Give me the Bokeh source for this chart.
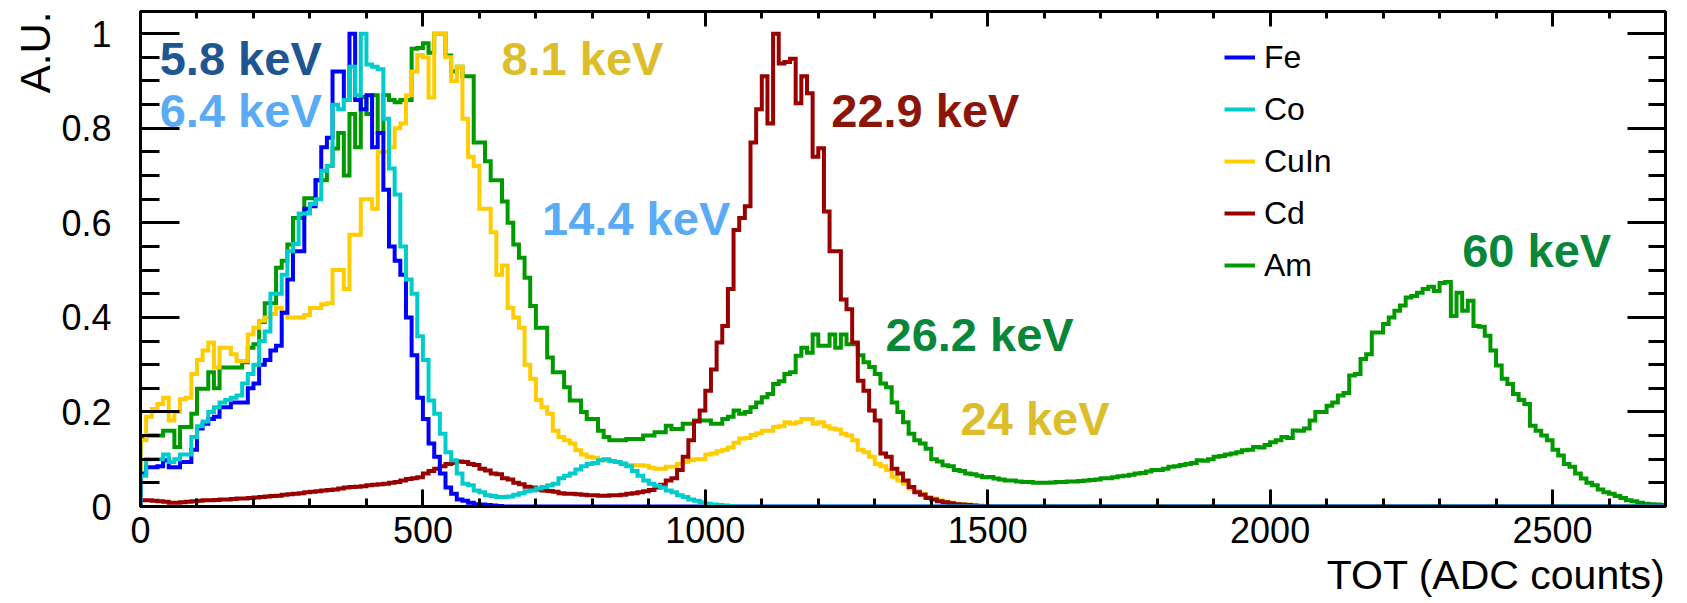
import numpy as np
from bokeh.plotting import figure
from bokeh.models import (Range1d, LinearAxis, FixedTicker, NumeralTickFormatter,
                          CustomJSTickFormatter, Label, Legend, LegendItem, Title)
from bokeh.embed import file_html
from bokeh.resources import INLINE

# ---------------- data ----------------
bin_width = 10          # ADC counts per bin
x_max = 2700
n_bins = 270

series_names = ["Fe", "Co", "CuIn", "Cd", "Am"]

fe = [0.07, 0.083, 0.083, 0.085, 0.098, 0.083, 0.083, 0.094, 0.094, 0.12,
      0.165, 0.175, 0.185, 0.19, 0.21, 0.21, 0.22, 0.22, 0.22, 0.25,
      0.26, 0.30, 0.31, 0.33, 0.34, 0.41, 0.48, 0.54, 0.54, 0.63,
      0.635, 0.69, 0.76, 0.78, 0.92, 0.92, 0.86, 1.0, 0.86, 0.84,
      0.87, 0.76, 0.79, 0.67, 0.55, 0.52, 0.49, 0.40, 0.32, 0.23,
      0.185, 0.133, 0.105, 0.07, 0.04, 0.027, 0.015, 0.012, 0.008, 0.005,
      0.004, 0.003, 0.002, 0.001]

co = [0.065, 0.10, 0.10, 0.10, 0.11, 0.094, 0.10, 0.11, 0.11, 0.147,
      0.17, 0.18, 0.20, 0.21, 0.22, 0.225, 0.23, 0.235, 0.26, 0.28,
      0.30, 0.35, 0.37, 0.45, 0.45, 0.49, 0.54, 0.555, 0.62, 0.62,
      0.64, 0.65, 0.71, 0.72, 0.85, 0.84, 0.86, 0.93, 0.87, 1.0,
      0.935, 0.93, 0.925, 0.82, 0.715, 0.66, 0.55, 0.48, 0.45, 0.36,
      0.31, 0.224, 0.196, 0.154, 0.115, 0.098, 0.07, 0.048, 0.045, 0.034,
      0.03, 0.024, 0.022, 0.02, 0.02, 0.021, 0.025, 0.028, 0.032, 0.034,
      0.038, 0.041, 0.045, 0.048, 0.06, 0.065, 0.07, 0.078, 0.085, 0.09,
      0.092, 0.098, 0.1, 0.096, 0.094, 0.09, 0.085, 0.075, 0.065, 0.055,
      0.048, 0.044, 0.04, 0.034, 0.03, 0.024, 0.02, 0.015, 0.012, 0.009,
      0.006, 0.004, 0.003, 0.002, 0.001]

cuin = [0.14, 0.19, 0.206, 0.217, 0.23, 0.182, 0.2, 0.227, 0.23, 0.28,
        0.31, 0.33, 0.347, 0.294, 0.336, 0.336, 0.322, 0.308, 0.308, 0.364,
        0.378, 0.393, 0.40, 0.407, 0.42, 0.41, 0.40, 0.40, 0.40, 0.405,
        0.42, 0.42, 0.428, 0.43, 0.50, 0.50, 0.46, 0.575, 0.575, 0.65,
        0.65, 0.63, 0.75, 0.75, 0.76, 0.80, 0.81, 0.87, 0.92, 0.955,
        0.95, 0.865, 1.0, 1.0, 0.95, 0.90, 0.93, 0.82, 0.74, 0.72,
        0.63, 0.63, 0.58, 0.49, 0.51, 0.42, 0.40, 0.378, 0.30, 0.27,
        0.225, 0.21, 0.196, 0.16, 0.147, 0.14, 0.133, 0.119, 0.11, 0.105,
        0.103, 0.098, 0.098, 0.096, 0.094, 0.092, 0.088, 0.087, 0.087, 0.086,
        0.082, 0.08, 0.08, 0.084, 0.084, 0.09, 0.094, 0.098, 0.10, 0.10,
        0.11, 0.112, 0.117, 0.12, 0.125, 0.135, 0.144, 0.145, 0.151, 0.155,
        0.16, 0.16, 0.168, 0.17, 0.178, 0.175, 0.178, 0.185, 0.185, 0.175,
        0.178, 0.17, 0.165, 0.163, 0.154, 0.15, 0.14, 0.12, 0.115, 0.105,
        0.09, 0.085, 0.077, 0.063, 0.055, 0.048, 0.038, 0.033, 0.027, 0.02,
        0.017, 0.013, 0.01, 0.008, 0.006, 0.005, 0.004, 0.003, 0.002, 0.001]

cd = [0.013, 0.013, 0.012, 0.011, 0.01, 0.008, 0.008, 0.009, 0.01, 0.011,
      0.012, 0.013, 0.013, 0.014, 0.015, 0.015, 0.016, 0.017, 0.017, 0.018,
      0.019, 0.02, 0.021, 0.022, 0.023, 0.025, 0.026, 0.027, 0.028, 0.03,
      0.031, 0.032, 0.034, 0.035, 0.036, 0.038, 0.04, 0.041, 0.042, 0.043,
      0.045, 0.046, 0.047, 0.048, 0.05, 0.052, 0.055, 0.058, 0.06, 0.062,
      0.07, 0.075, 0.08, 0.085, 0.09, 0.092, 0.095, 0.094, 0.09, 0.088,
      0.08, 0.076, 0.07, 0.068, 0.06, 0.057, 0.05, 0.047, 0.042, 0.04,
      0.036, 0.034, 0.033, 0.031, 0.028, 0.027, 0.027, 0.026, 0.025, 0.024,
      0.024, 0.023, 0.023, 0.024, 0.024, 0.025, 0.027, 0.028, 0.03, 0.032,
      0.035, 0.04, 0.046, 0.055, 0.06, 0.077, 0.105, 0.14, 0.18, 0.203,
      0.245, 0.29, 0.347, 0.382, 0.46, 0.585, 0.61, 0.635, 0.77, 0.84,
      0.91, 0.81, 1.0, 0.937, 0.94, 0.947, 0.853, 0.91, 0.874, 0.74,
      0.758, 0.624, 0.54, 0.54, 0.438, 0.417, 0.347, 0.266, 0.245, 0.203,
      0.182, 0.112, 0.105, 0.08, 0.07, 0.055, 0.041, 0.03, 0.025, 0.018,
      0.015, 0.011, 0.009, 0.007, 0.005, 0.004, 0.003, 0.002, 0.001, 0.001]

am = [0.143, 0.15, 0.15, 0.15, 0.16, 0.16, 0.126, 0.168, 0.168, 0.196,
      0.249, 0.249, 0.284, 0.25, 0.294, 0.294, 0.294, 0.294, 0.305, 0.336,
      0.343, 0.39, 0.43, 0.43, 0.505, 0.52, 0.554, 0.61, 0.61, 0.652,
      0.652, 0.69, 0.69, 0.72, 0.757, 0.79, 0.70, 0.83, 0.76, 0.866,
      0.83, 0.87, 0.79, 0.87, 0.86, 0.855, 0.86, 0.86, 0.968, 0.97,
      0.98, 0.96, 1.0, 1.0, 0.954, 0.92, 0.93, 0.91, 0.91, 0.77,
      0.77, 0.73, 0.69, 0.69, 0.645, 0.60, 0.554, 0.526, 0.484, 0.424,
      0.378, 0.378, 0.315, 0.284, 0.284, 0.252, 0.224, 0.224, 0.2, 0.185,
      0.185, 0.16, 0.147, 0.14, 0.14, 0.14, 0.143, 0.143, 0.143, 0.15,
      0.15, 0.157, 0.157, 0.171, 0.164, 0.164, 0.175, 0.175, 0.182, 0.182,
      0.182, 0.175, 0.175, 0.185, 0.19, 0.203, 0.196, 0.2, 0.21, 0.22,
      0.231, 0.238, 0.259, 0.265, 0.28, 0.284, 0.319, 0.336, 0.325, 0.364,
      0.34, 0.34, 0.364, 0.336, 0.364, 0.343, 0.343, 0.32, 0.305, 0.295,
      0.28, 0.26, 0.252, 0.22, 0.2, 0.178, 0.154, 0.14, 0.133, 0.122,
      0.10, 0.095, 0.087, 0.085, 0.077, 0.075, 0.07, 0.068, 0.065, 0.062,
      0.0625, 0.059, 0.057, 0.055, 0.055, 0.053, 0.052, 0.052, 0.05, 0.05,
      0.05, 0.051, 0.052, 0.052, 0.053, 0.053, 0.054, 0.055, 0.056, 0.057,
      0.06, 0.06, 0.062, 0.064, 0.065, 0.067, 0.07, 0.071, 0.074, 0.077,
      0.077, 0.08, 0.084, 0.085, 0.088, 0.09, 0.092, 0.098, 0.097, 0.1,
      0.105, 0.107, 0.11, 0.112, 0.115, 0.119, 0.12, 0.126, 0.125, 0.13,
      0.136, 0.14, 0.147, 0.145, 0.161, 0.16, 0.165, 0.182, 0.2, 0.2,
      0.213, 0.22, 0.235, 0.24, 0.277, 0.28, 0.312, 0.322, 0.368, 0.368,
      0.386, 0.40, 0.414, 0.425, 0.442, 0.445, 0.452, 0.46, 0.465, 0.456,
      0.473, 0.475, 0.403, 0.452, 0.414, 0.435, 0.382, 0.38, 0.361, 0.33,
      0.298, 0.27, 0.259, 0.238, 0.225, 0.217, 0.171, 0.16, 0.15, 0.14,
      0.12, 0.108, 0.09, 0.084, 0.07, 0.059, 0.05, 0.045, 0.036, 0.03,
      0.027, 0.022, 0.018, 0.013, 0.011, 0.008, 0.006, 0.005, 0.004, 0.003]

x_ticks = [0, 500, 1000, 1500, 2000, 2500]
y_ticks = [0, 0.2, 0.4, 0.6, 0.8, 1.0]

peak_labels = ["5.8 keV", "6.4 keV", "8.1 keV", "14.4 keV", "22.9 keV",
               "26.2 keV", "24 keV", "60 keV"]
peak_label_x = [34, 34, 639, 711, 1223, 1319, 1452, 2340]
peak_label_y = [0.948, 0.838, 0.948, 0.609, 0.838, 0.363, 0.187, 0.541]

# ---------------- styles ----------------
line_colors = {"Fe": "#0000ff", "Co": "#00cccc", "CuIn": "#ffcc00",
               "Cd": "#990000", "Am": "#009900"}
label_colors = ["#1d5690", "#5aabf6", "#dcbd2b", "#5aabf6", "#8a1509",
                "#08873a", "#dcbd2b", "#08873a"]
FONT = "Liberation Sans"

edges = np.arange(0, x_max + bin_width, bin_width)


def outline(vals):
    v = np.zeros(n_bins)
    v[:len(vals)] = vals
    xs = np.concatenate([[0], edges])
    ys = np.concatenate([[0], v, [0]])
    return xs, ys


p = figure(width=1685, height=602,
           x_range=Range1d(0, x_max), y_range=Range1d(0, 1.047),
           output_backend="svg", toolbar_location=None,
           min_border_left=140, min_border_right=20,
           min_border_top=11, min_border_bottom=94)
p.xgrid.visible = False
p.ygrid.visible = False
p.outline_line_color = "black"
p.outline_line_width = 3
p.background_fill_color = "white"
p.border_fill_color = "white"

data = {"Fe": fe, "Co": co, "CuIn": cuin, "Cd": cd, "Am": am}
renderers = {}
for name in ["Am", "CuIn", "Cd", "Fe", "Co"]:
    xs, ys = outline(data[name])
    renderers[name] = p.step(xs, ys, mode="after", line_color=line_colors[name],
                             line_width=4, line_join="miter")

xt = FixedTicker(ticks=x_ticks, minor_ticks=list(range(0, x_max + 1, 100)))
yt = FixedTicker(ticks=y_ticks, minor_ticks=[round(0.05 * i, 2) for i in range(21)])


def style_axis(ax, major_in, minor_in):
    ax.axis_line_width = 3
    ax.axis_line_color = "black"
    ax.major_tick_in = major_in
    ax.major_tick_out = 0
    ax.minor_tick_in = minor_in
    ax.minor_tick_out = 0
    ax.major_tick_line_width = 3
    ax.minor_tick_line_width = 3
    ax.major_tick_line_color = "black"
    ax.minor_tick_line_color = "black"


xa = p.xaxis[0]
xa.ticker = xt
style_axis(xa, 17, 8)
xa.major_label_text_font = FONT
xa.major_label_text_font_size = "36px"
xa.major_label_text_color = "black"
xa.major_label_standoff = 10

ya = p.yaxis[0]
ya.ticker = yt
ya.formatter = NumeralTickFormatter(format="0.[0]")
style_axis(ya, 39, 19)
ya.major_label_text_font = FONT
ya.major_label_text_font_size = "36px"
ya.major_label_text_color = "black"
ya.major_label_standoff = 29

empty = CustomJSTickFormatter(code="return ''")
top = LinearAxis(ticker=xt, formatter=empty, major_label_text_font_size="1px",
                 major_label_standoff=0)
style_axis(top, 15, 7)
p.add_layout(top, "above")
right = LinearAxis(ticker=yt, formatter=empty, major_label_text_font_size="1px",
                   major_label_standoff=0)
style_axis(right, 38, 17)
p.add_layout(right, "right")

# axis titles (ROOT style: at the far end of each axis)
p.add_layout(Title(text="TOT (ADC counts)", align="right", standoff=9,
                   text_font=FONT, text_font_size="41px", text_font_style="normal",
                   text_color="black"), "below")
p.add_layout(Title(text="A.U.", align="right", standoff=0,
                   text_font=FONT, text_font_size="42px", text_font_style="normal",
                   text_color="black"), "left")

for t, lx, ly, c in zip(peak_labels, peak_label_x, peak_label_y, label_colors):
    p.add_layout(Label(x=lx, y=ly, text=t, text_align="left", text_baseline="middle",
                       text_font=FONT, text_font_style="bold", text_font_size="47px",
                       text_color=c))

legend = Legend(items=[LegendItem(label=n, renderers=[renderers[n]]) for n in series_names],
                location=(1084, 215), orientation="vertical",
                border_line_alpha=0, background_fill_alpha=0,
                padding=0, margin=0, spacing=0,
                glyph_width=31, glyph_height=52, label_height=52, label_standoff=9,
                label_text_font=FONT, label_text_font_size="32px",
                label_text_baseline="middle", label_text_color="black")
p.add_layout(legend)

open("out.html", "w").write(file_html(p, INLINE))
